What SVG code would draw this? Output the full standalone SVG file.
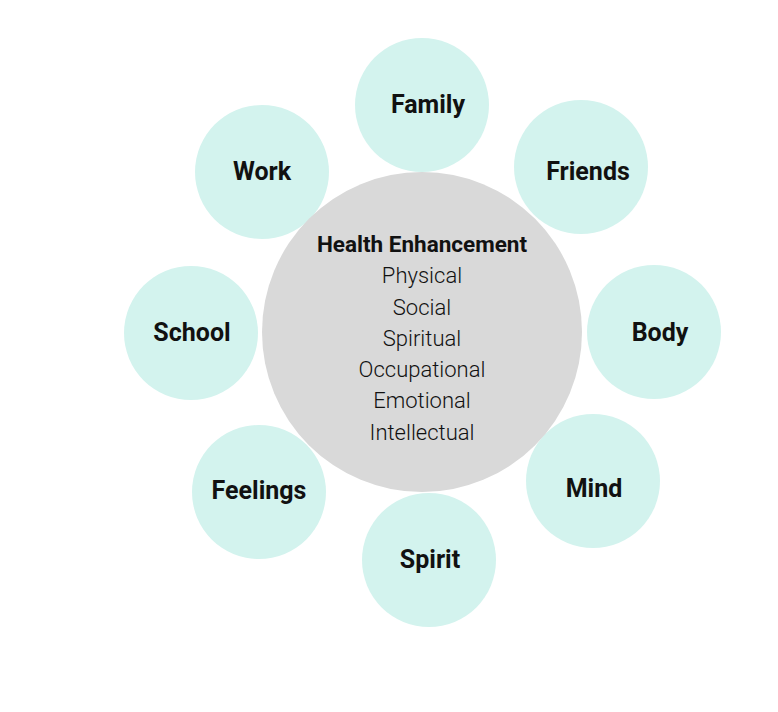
<svg xmlns="http://www.w3.org/2000/svg" width="778" height="712" viewBox="0 0 778 712">
<style>
.sat{fill:#d3f3ee}
.hub{fill:#d9d9d9}
.lbl{font-family:Roboto,"Liberation Sans",sans-serif;font-weight:700;font-size:25px;fill:#111;text-anchor:middle}
.ttl{font-family:Roboto,"Liberation Sans",sans-serif;font-weight:700;font-size:22.5px;fill:#111;text-anchor:middle}
.itm{font-family:Roboto,"Liberation Sans",sans-serif;font-weight:300;font-size:22px;fill:#111;text-anchor:middle}
</style>
<rect width="778" height="712" fill="#ffffff"/>
<g id="connectors"></g>
<g id="family"><circle class="sat" cx="422" cy="105" r="67"/><text class="lbl" x="428" y="113">Family</text></g>
<g id="friends"><circle class="sat" cx="581" cy="167" r="67"/><text class="lbl" x="588" y="180">Friends</text></g>
<g id="work"><circle class="sat" cx="262" cy="172" r="67"/><text class="lbl" x="262" y="180">Work</text></g>
<g id="school"><circle class="sat" cx="191" cy="333" r="67"/><text class="lbl" x="192" y="341">School</text></g>
<g id="body"><circle class="sat" cx="654" cy="332" r="67"/><text class="lbl" x="660" y="341">Body</text></g>
<g id="mind"><circle class="sat" cx="593" cy="481" r="67"/><text class="lbl" x="594" y="497">Mind</text></g>
<g id="feelings"><circle class="sat" cx="259" cy="492" r="67"/><text class="lbl" x="259" y="499">Feelings</text></g>
<g id="spirit"><circle class="sat" cx="429" cy="560" r="67"/><text class="lbl" x="430" y="568">Spirit</text></g>
<g id="health-enhancement">
<circle class="hub" cx="422" cy="332" r="160"/>
<text class="ttl" x="422" y="252">Health Enhancement</text>
<text class="itm" x="422" y="283">Physical</text>
<text class="itm" x="422" y="315">Social</text>
<text class="itm" x="422" y="346">Spiritual</text>
<text class="itm" x="422" y="377">Occupational</text>
<text class="itm" x="422" y="408">Emotional</text>
<text class="itm" x="422" y="440">Intellectual</text>
</g>
</svg>
